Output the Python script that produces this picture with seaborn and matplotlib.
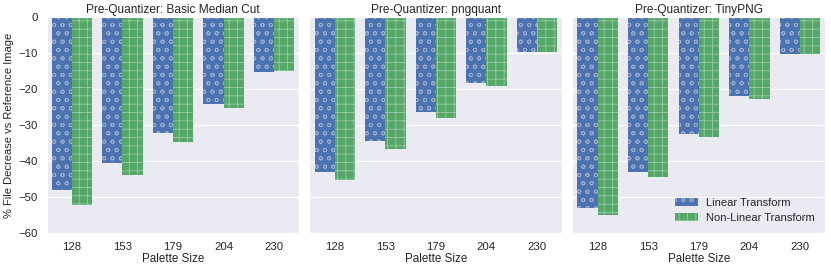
import pandas as pd
import matplotlib.pyplot as plt
import seaborn as sns

palette_sizes = [128, 153, 179, 204, 230]
quantizers = ['Basic Median Cut', 'pngquant', 'TinyPNG']
transforms = ['Linear Transform', 'Non-Linear Transform']

# % file decrease vs reference image, per quantizer
median_cut_linear = [-48.1, -40.4, -32.2, -24.2, -15.3]
median_cut_nonlinear = [-52.2, -43.8, -34.8, -25.3, -15.1]
pngquant_linear = [-43.1, -34.5, -26.5, -18.4, -9.8]
pngquant_nonlinear = [-45.3, -36.7, -27.9, -19.2, -9.8]
tinypng_linear = [-52.9, -43.1, -32.6, -21.9, -10.3]
tinypng_nonlinear = [-55.0, -44.5, -33.3, -22.7, -10.3]

series = {
    'Basic Median Cut': (median_cut_linear, median_cut_nonlinear),
    'pngquant': (pngquant_linear, pngquant_nonlinear),
    'TinyPNG': (tinypng_linear, tinypng_nonlinear),
}

rows = []
for q in quantizers:
    lin, nonlin = series[q]
    for p, a, b in zip(palette_sizes, lin, nonlin):
        rows.append((q, p, transforms[0], a))
        rows.append((q, p, transforms[1], b))
df = pd.DataFrame(rows, columns=['Quantizer', 'Palette Size', 'Transform', 'Decrease'])

sns.set_style('darkgrid')
plt.rcParams['font.family'] = ['Arial', 'Liberation Sans', 'DejaVu Sans']
plt.rcParams['hatch.linewidth'] = 0.6

colors = ['#4C72B0', '#55A868']
hatches = ['oo', '++']
hatch_col = (1, 1, 1, 0.4)

fig, axes = plt.subplots(1, 3, figsize=(8.31, 2.71), dpi=100, sharey=True)
fig.subplots_adjust(left=0.056, right=0.993, top=0.937, bottom=0.14, wspace=0.04)

for ax, q in zip(axes, quantizers):
    sub = df[df['Quantizer'] == q]
    sns.barplot(data=sub, x='Palette Size', y='Decrease', hue='Transform',
                hue_order=transforms, palette=colors, ax=ax, width=0.8,
                saturation=1, legend=(q == 'TinyPNG'))
    for container, h in zip(ax.containers, hatches):
        for bar in container:
            bar.set_hatch(h)
            bar.set_edgecolor(hatch_col)
            bar.set_linewidth(0)
    ax.set_ylim(-60, 0)
    ax.set_title('Pre-Quantizer: ' + q, fontsize=8.6, pad=3)
    ax.set_xlabel('Palette Size', fontsize=8.4, labelpad=1)
    ax.set_ylabel('')
    ax.tick_params(labelsize=8.2, pad=3)

axes[0].set_ylabel('% File Decrease vs Reference Image', fontsize=8.0, labelpad=3)

leg = axes[2].legend(loc='lower right', frameon=False, fontsize=8.0)
for patch, h in zip(leg.get_patches(), hatches):
    patch.set_hatch(h)
    patch.set_edgecolor(hatch_col)
    patch.set_linewidth(0)

fig.savefig('out.png', dpi=100)
